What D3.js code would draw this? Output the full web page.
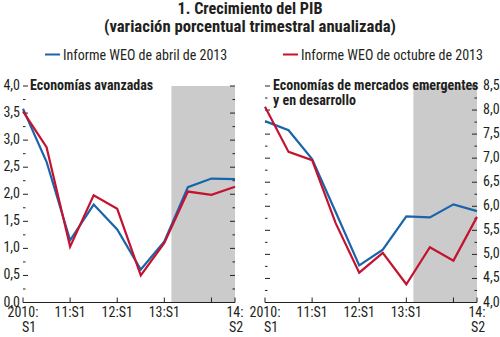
<!DOCTYPE html>
<html>
<head>
<meta charset="utf-8">
<script src="https://cdn.jsdelivr.net/npm/d3@7"></script>
<style>
  body { margin: 0; background: #fff; }
  svg { font-family: "Liberation Sans Narrow", "Arial Narrow", "Roboto Condensed", sans-serif; }
</style>
</head>
<body>
<div id="container"></div>
<script>
/* DATA */
const periods = ["2010:S1", "2010:S2", "11:S1", "11:S2", "12:S1", "12:S2", "13:S1", "13:S2", "14:S1", "14:S2"];
const advApril = [3.58, 2.60, 1.15, 1.81, 1.35, 0.61, 1.13, 2.13, 2.29, 2.28];
const advOctober = [3.53, 2.87, 1.03, 1.98, 1.73, 0.50, 1.10, 2.05, 1.99, 2.14];
const emApril = [7.77, 7.58, 6.98, 5.88, 4.77, 5.10, 5.79, 5.77, 6.04, 5.90];
const emOctober = [8.07, 7.13, 6.96, 5.65, 4.62, 5.03, 4.38, 5.15, 4.87, 5.78];
const advTicks = [0, 0.5, 1, 1.5, 2, 2.5, 3, 3.5, 4];
const emTicks = [4, 4.5, 5, 5.5, 6, 6.5, 7, 7.5, 8, 8.5];
const xTickIndex = [0, 2, 4, 6, 8, 9];
const xLabels = [["2010:", "S1"], ["11:S1"], ["12:S1"], ["13:S1"], [], ["14:", "S2"]];
const projectionStart = 6.3; // shaded area begins here (period index)
const seriesNames = ["Informe WEO de abril de 2013", "Informe WEO de octubre de 2013"];
const titleLines = ["1. Crecimiento del PIB", "(variación porcentual trimestral anualizada)"];

/* CONSTANTS */
const width = 500, height = 337;
const blue = "#1a64ab", red = "#c4122f", shade = "#cbcbcc", ink = "#231f20";
const fmt = d3.formatLocale({ decimal: ",", thousands: ".", grouping: [3], currency: ["", ""] }).format(".1f");

const svg = d3.select("#container")
  .append("svg")
  .attr("width", width)
  .attr("height", height);

// titles: condensed bold, stretched a little to the original's width
const titleWidths = [145, 292];
titleLines.forEach((t, i) => {
  svg.append("text")
    .attr("x", 250).attr("y", 14 + i * 17.5)
    .attr("text-anchor", "middle")
    .attr("font-size", 16).attr("font-weight", "bold").attr("fill", ink)
    .attr("textLength", titleWidths[i])
    .attr("lengthAdjust", "spacingAndGlyphs")
    .text(t);
});

// legend
const legendX = [45, 283];
seriesNames.forEach((name, i) => {
  svg.append("line")
    .attr("x1", legendX[i]).attr("x2", legendX[i] + 15)
    .attr("y1", 54.5).attr("y2", 54.5)
    .attr("stroke", i === 0 ? blue : red).attr("stroke-width", 2);
  svg.append("text")
    .attr("x", legendX[i] + 18).attr("y", 59.5)
    .attr("font-size", 14).attr("fill", ink)
    .text(name);
});

/* PANELS */
function drawPanel(opts) {
  const x = d3.scaleLinear().domain([0, periods.length - 1]).range([opts.left, opts.right]);
  const y = d3.scaleLinear().domain(opts.domain).range([302.5, 86]);
  const g = svg.append("g");

  // projection shading
  g.append("rect")
    .attr("x", x(projectionStart)).attr("y", y(opts.domain[1]))
    .attr("width", x(periods.length - 1) - x(projectionStart))
    .attr("height", y(opts.domain[0]) - y(opts.domain[1]))
    .attr("fill", shade);

  // inward ticks on both sides (major every 0.5, minor in between)
  const minor = d3.range(opts.domain[0] + 0.25, opts.domain[1], 0.5);
  [[opts.left, 1], [opts.right, -1]].forEach(([sx, dir]) => {
    g.selectAll(null).data(opts.ticks).join("line")
      .attr("x1", sx).attr("x2", sx + dir * 5)
      .attr("y1", d => y(d)).attr("y2", d => y(d))
      .attr("stroke", ink).attr("stroke-width", 1);
    g.selectAll(null).data(minor).join("line")
      .attr("x1", sx).attr("x2", sx + dir * 2.5)
      .attr("y1", d => y(d)).attr("y2", d => y(d))
      .attr("stroke", ink).attr("stroke-width", 1);
  });

  // y labels
  g.selectAll(null).data(opts.ticks).join("text")
    .attr("x", opts.labelX)
    .attr("y", d => y(d) + 4)
    .attr("text-anchor", opts.labelAnchor)
    .attr("font-size", 14).attr("fill", ink)
    .text(d => fmt(d));

  // x axis
  g.append("line")
    .attr("x1", opts.left).attr("x2", opts.right)
    .attr("y1", y(opts.domain[0])).attr("y2", y(opts.domain[0]))
    .attr("stroke", ink).attr("stroke-width", 1.2);
  g.selectAll(null).data(xTickIndex).join("line")
    .attr("x1", d => x(d)).attr("x2", d => x(d))
    .attr("y1", y(opts.domain[0])).attr("y2", y(opts.domain[0]) - 5)
    .attr("stroke", ink).attr("stroke-width", 1);
  xTickIndex.forEach((d, i) => {
    xLabels[i].forEach((t, j) => {
      g.append("text")
        .attr("x", x(d) + (j === 1 ? (d === 0 ? 6 : 1) : 0))
        .attr("y", 317 + j * 14.5)
        .attr("text-anchor", "middle")
        .attr("font-size", 14).attr("fill", ink)
        .text(t);
    });
  });

  // series
  const line = d3.line().x((d, i) => x(i)).y(d => y(d));
  [[opts.april, blue], [opts.october, red]].forEach(([vals, col]) => {
    g.append("path")
      .datum(vals)
      .attr("d", line)
      .attr("fill", "none")
      .attr("stroke", col)
      .attr("stroke-width", 2.2)
      .attr("stroke-linejoin", "miter");
  });

  // panel title
  opts.title.forEach((t, j) => {
    g.append("text")
      .attr("x", opts.left + opts.titleOffset).attr("y", 90 + j * 15)
      .attr("font-size", 14).attr("font-weight", "bold").attr("fill", ink)
      .text(t);
  });
}

drawPanel({
  left: 23, right: 235, domain: [0, 4], ticks: advTicks,
  labelX: 20, labelAnchor: "end",
  april: advApril, october: advOctober,
  title: ["Economías avanzadas"], titleOffset: 7
});

drawPanel({
  left: 265, right: 477, domain: [4, 8.5], ticks: emTicks,
  labelX: 483, labelAnchor: "start",
  april: emApril, october: emOctober,
  title: ["Economías de mercados emergentes", "y en desarrollo"], titleOffset: 8
});
</script>
</body>
</html>
